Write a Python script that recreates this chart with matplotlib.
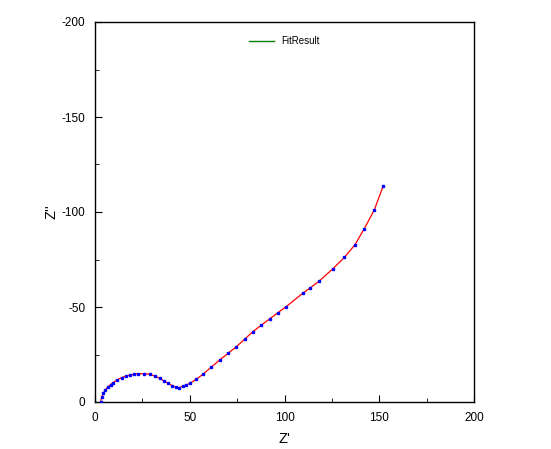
import matplotlib
matplotlib.use("Agg")
import matplotlib.pyplot as plt
from matplotlib.ticker import MultipleLocator

plt.rcParams['font.family'] = ['Liberation Sans', 'DejaVu Sans']
plt.rcParams['axes.unicode_minus'] = False

z_real = [3.0, 3.5, 4.4, 5.5, 7.0, 8.2, 9.6, 11.5, 14.0, 16.2, 18.4, 20.6, 22.8, 25.8,
          28.9, 31.6, 34.2, 36.4, 38.6, 40.8, 43.0, 44.5, 46.5, 48.2,
          50.0, 53.5, 57.0, 61.4, 65.8, 70.2, 74.6, 79.0, 83.3, 87.7, 92.1, 96.5,
          100.9, 109.6, 113.2, 118.4, 125.4, 131.6,
          137.2, 142.1, 147.4, 152.1]
z_imag = [-0.2, -2.4, -4.6, -6.5, -8.1, -9.2, -10.2, -11.6, -12.8, -13.6, -14.2, -14.6, -14.9, -14.9,
          -14.6, -13.6, -12.4, -11.1, -9.8, -8.6, -7.7, -7.6, -8.4, -9.0,
          -9.8, -12.0, -14.6, -18.4, -22.1, -25.6, -29.1, -33.1, -37.0, -40.4, -43.7, -47.0,
          -50.2, -57.2, -59.8, -63.7, -70.0, -76.1,
          -82.8, -91.2, -101.1, -113.8]

fig = plt.figure(figsize=(5.51, 4.49), dpi=100)
ax = fig.add_axes([95/551, 47/449, 379/551, 380/449])

ax.plot(z_real, z_imag, color='red', lw=0.9, zorder=2)
ax.plot(z_real, z_imag, ls='none', marker='s', ms=1.5, color='blue', mec='blue', zorder=3)
ax.plot([], [], color='green', lw=1.0, label='FitResult')

ax.set_xlim(0, 200)
ax.set_ylim(0, -200)
ax.xaxis.set_major_locator(MultipleLocator(50))
ax.xaxis.set_minor_locator(MultipleLocator(25))
ax.yaxis.set_major_locator(MultipleLocator(50))
ax.yaxis.set_minor_locator(MultipleLocator(25))
ax.tick_params(which='both', direction='in', top=False, right=False, labelsize=8.5, pad=7)
ax.tick_params(which='major', length=5)
ax.tick_params(which='minor', length=3)
for s in ax.spines.values():
    s.set_linewidth(1.0)

ax.set_xlabel("Z'", fontsize=10.5, labelpad=6)
ax.set_ylabel("Z''", fontsize=10.5, labelpad=2)

ax.legend(loc='upper center', bbox_to_anchor=(0.5, 0.985), frameon=False, fontsize=7,
          handlelength=2.5)

fig.savefig("out.png", dpi=100)
